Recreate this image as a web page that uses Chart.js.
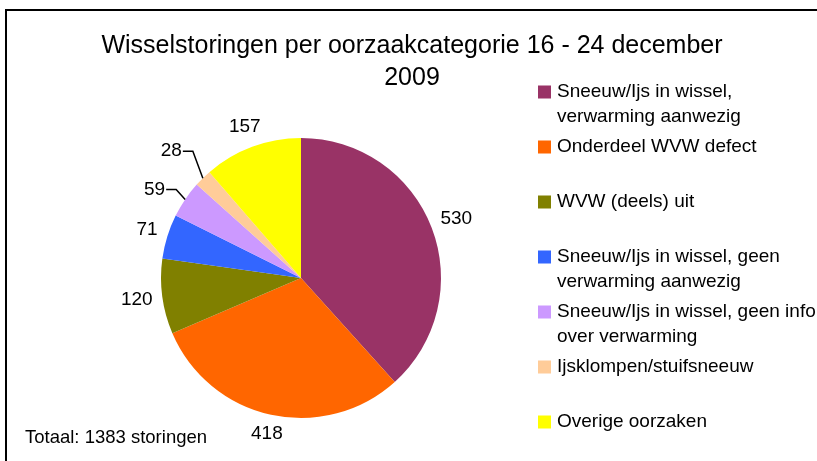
<!DOCTYPE html>
<html>
<head>
<meta charset="utf-8">
<script src="https://cdn.jsdelivr.net/npm/chart.js@4.4.0/dist/chart.umd.min.js"></script>
<style>
  body { margin: 0; background: #fff; }
  #wrap { width: 817px; height: 461px; position: relative; }
</style>
</head>
<body>
<div id="wrap"><canvas id="pieChart"></canvas></div>
<script>
const titleLines = ['Wisselstoringen per oorzaakcategorie 16 - 24 december', '2009'];
const categories = [
  ['Sneeuw/Ijs in wissel,', 'verwarming aanwezig'],
  ['Onderdeel WVW defect'],
  ['WVW (deels) uit'],
  ['Sneeuw/Ijs in wissel, geen', 'verwarming aanwezig'],
  ['Sneeuw/Ijs in wissel, geen info', 'over verwarming'],
  ['Ijsklompen/stuifsneeuw'],
  ['Overige oorzaken']
];
const storingen = [530, 418, 120, 71, 59, 28, 157];
const sliceColors = ['#993366', '#FF6600', '#808000', '#3366FF', '#CC99FF', '#FFCC99', '#FFFF00'];
const totalText = 'Totaal: ' + storingen.reduce((a, b) => a + b, 0) + ' storingen';

const FONT = '"Liberation Sans", Arial, sans-serif';

// white page, frame lines, title, legend and total
const decorations = {
  id: 'decorations',
  beforeDraw(chart) {
    const ctx = chart.ctx;
    ctx.save();
    ctx.fillStyle = '#fff';
    ctx.fillRect(0, 0, chart.width, chart.height);
    ctx.strokeStyle = '#000';
    ctx.lineWidth = 2;
    ctx.beginPath();
    ctx.moveTo(6, chart.height);
    ctx.lineTo(6, 10);
    ctx.lineTo(chart.width, 10);
    ctx.stroke();
    ctx.restore();
  },
  afterDraw(chart, args, opts) {
    const ctx = chart.ctx;
    ctx.save();
    ctx.fillStyle = '#000';
    ctx.textBaseline = 'alphabetic';
    ctx.textAlign = 'center';
    ctx.font = '25px ' + FONT;
    titleLines.forEach((line, i) => ctx.fillText(line, opts.titleX, opts.titleY + i * 32));

    ctx.textAlign = 'left';
    ctx.font = '18.5px ' + FONT;
    ctx.fillText(totalText, 25, 443);

    ctx.font = '19px ' + FONT;
    ctx.textBaseline = 'middle';
    categories.forEach((lines, i) => {
      const cy = opts.legendTop + i * opts.legendStep;
      ctx.fillStyle = sliceColors[i];
      ctx.fillRect(opts.legendX, cy - 6.5, 13, 13);
      ctx.fillStyle = '#000';
      lines.forEach((line, j) => ctx.fillText(line, opts.legendX + 19, cy + j * 25));
    });
    ctx.restore();
  }
};

// value labels beside the slices, some with a leader line
const valueLabels = {
  id: 'valueLabels',
  afterDatasetsDraw(chart, args, opts) {
    const ctx = chart.ctx;
    const meta = chart.getDatasetMeta(0);
    ctx.save();
    ctx.font = '19px ' + FONT;
    ctx.fillStyle = '#000';
    ctx.strokeStyle = '#000';
    ctx.lineWidth = 1.5;
    ctx.textBaseline = 'middle';
    meta.data.forEach((arc, i) => {
      const p = arc.getProps(['x', 'y', 'startAngle', 'endAngle', 'outerRadius'], true);
      const mid = (p.startAngle + p.endAngle) / 2;
      const cos = Math.cos(mid), sin = Math.sin(mid);
      const text = String(chart.data.datasets[0].data[i]);
      const leader = opts.leaders[i];
      if (leader) {
        const ex = p.x + cos * p.outerRadius, ey = p.y + sin * p.outerRadius;
        const bx = ex + leader[0], by = ey + leader[1];
        ctx.beginPath();
        ctx.moveTo(ex, ey);
        ctx.lineTo(bx, by);
        ctx.lineTo(bx - 10, by);
        ctx.stroke();
        ctx.textAlign = 'right';
        ctx.fillText(text, bx - 11, by);
      } else {
        const w = ctx.measureText(text).width;
        const r = p.outerRadius + opts.gap + Math.abs(cos) * w / 2 + Math.abs(sin) * 7;
        ctx.textAlign = 'center';
        ctx.fillText(text, p.x + cos * r, p.y + sin * r);
      }
    });
    ctx.restore();
  }
};

const ctx = document.getElementById('pieChart').getContext('2d');
const pieChart = new Chart(ctx, {
  type: 'pie',
  data: {
    labels: categories,
    datasets: [{
      data: storingen,
      backgroundColor: sliceColors,
      borderWidth: 0
    }]
  },
  options: {
    responsive: true,
    maintainAspectRatio: false,
    animation: false,
    layout: {
      padding: { left: 161, top: 138, right: 376, bottom: 43 }
    },
    plugins: {
      legend: { display: false },
      tooltip: { enabled: false },
      title: { display: false },
      decorations: { titleX: 412, titleY: 53, legendX: 538, legendTop: 92, legendStep: 55 },
      valueLabels: { gap: 9, leaders: { 4: [-9, -10], 5: [-10, -27] } }
    }
  },
  plugins: [decorations, valueLabels]
});
</script>
</body>
</html>
